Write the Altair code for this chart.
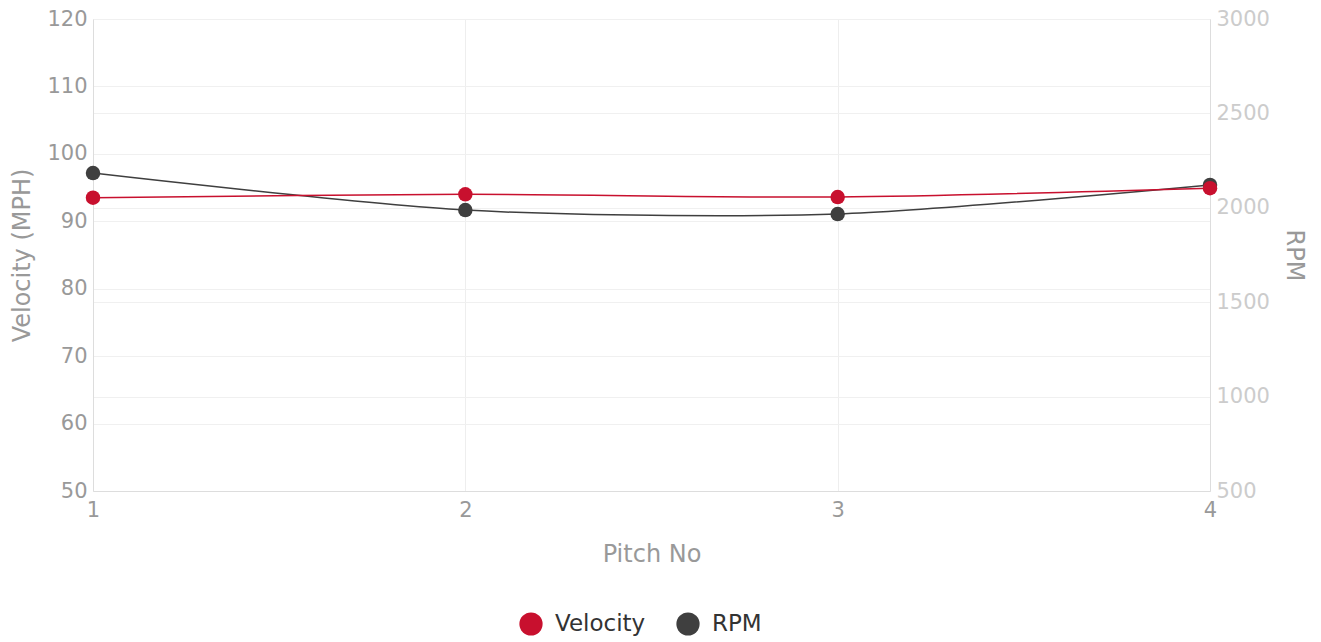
import altair as alt
import pandas as pd

pitch_no = [1, 2, 3, 4]
velocity = [93.5, 94.0, 93.6, 94.9]
rpm = [2184, 1988, 1967, 2121]

df_v = pd.DataFrame({"pitch": pitch_no, "value": velocity, "series": "Velocity"})
df_r = pd.DataFrame({"pitch": pitch_no, "value": rpm, "series": "RPM"})

FONT = "DejaVu Sans"
FS = 21
TFS = 24
color = alt.Color(
    "series:N",
    scale=alt.Scale(domain=["Velocity", "RPM"], range=["#c8102e", "#3f3f3f"]),
    legend=alt.Legend(
        title=None, orient="none", direction="horizontal",
        legendX=426, legendY=593,
        symbolType="circle", symbolSize=540, symbolStrokeWidth=0,
        labelFontSize=23, labelColor="#333333", labelFont=FONT,
        columnPadding=30, labelOffset=12,
    ),
)

x = alt.X(
    "pitch:Q",
    scale=alt.Scale(domain=[1, 4], nice=False),
    axis=alt.Axis(
        title="Pitch No", values=[1, 2, 3, 4], format="d", grid=True,
        labelFontSize=FS, labelColor="#999999", titleFontSize=TFS,
        titleColor="#999999", titleFontWeight="normal", titlePadding=22,
        labelPadding=8, ticks=False, domainColor="#dddddd", labelFlush=False,
        gridColor="#eeeeee", labelFont=FONT, titleFont=FONT,
    ),
)

base_v = alt.Chart(df_v).encode(
    x=x,
    y=alt.Y(
        "value:Q",
        scale=alt.Scale(domain=[50, 120], nice=False),
        axis=alt.Axis(
            title="Velocity (MPH)", orient="left", grid=True,
            values=[50, 60, 70, 80, 90, 100, 110, 120],
            labelFontSize=FS, labelColor="#999999", titleFontSize=TFS,
            titleColor="#999999", titleFontWeight="normal", titlePadding=12,
            labelPadding=6, ticks=False, domainColor="#dddddd", labelFlush=False,
            gridColor="#f0f0f0", labelFont=FONT, titleFont=FONT,
        ),
    ),
    color=color,
)
v_line = base_v.mark_line(interpolate="cardinal", tension=0.2, strokeWidth=1.5)
v_pts = base_v.mark_point(filled=True, size=210, opacity=1)

base_r = alt.Chart(df_r).encode(
    x=x,
    y=alt.Y(
        "value:Q",
        scale=alt.Scale(domain=[500, 3000], nice=False),
        axis=alt.Axis(
            title="RPM", orient="right", format="d", grid=True,
            values=[500, 1000, 1500, 2000, 2500, 3000],
            labelFontSize=FS, labelColor="#cccccc", titleFontSize=TFS,
            titleColor="#999999", titleFontWeight="normal", titlePadding=12,
            labelPadding=6, ticks=False, domainColor="#dddddd", labelFlush=False,
            gridColor="#f0f0f0", labelFont=FONT, titleFont=FONT,
        ),
    ),
    color=color,
)
r_line = base_r.mark_line(interpolate="cardinal", tension=0.2, strokeWidth=1.5)
r_pts = base_r.mark_point(filled=True, size=210, opacity=1)

right = alt.layer(r_line, r_pts)
left = alt.layer(v_line, v_pts)

chart = (
    alt.layer(right, left)
    .resolve_scale(y="independent")
    .properties(
        width=1117, height=472,
        autosize=alt.AutoSizeParams(type="none"),
        padding={"left": 85, "top": 11, "right": 103, "bottom": 149},
    )
    .configure_view(stroke="#eeeeee")
)

chart.save("out.html", embed_options={"renderer": "svg", "actions": False})
